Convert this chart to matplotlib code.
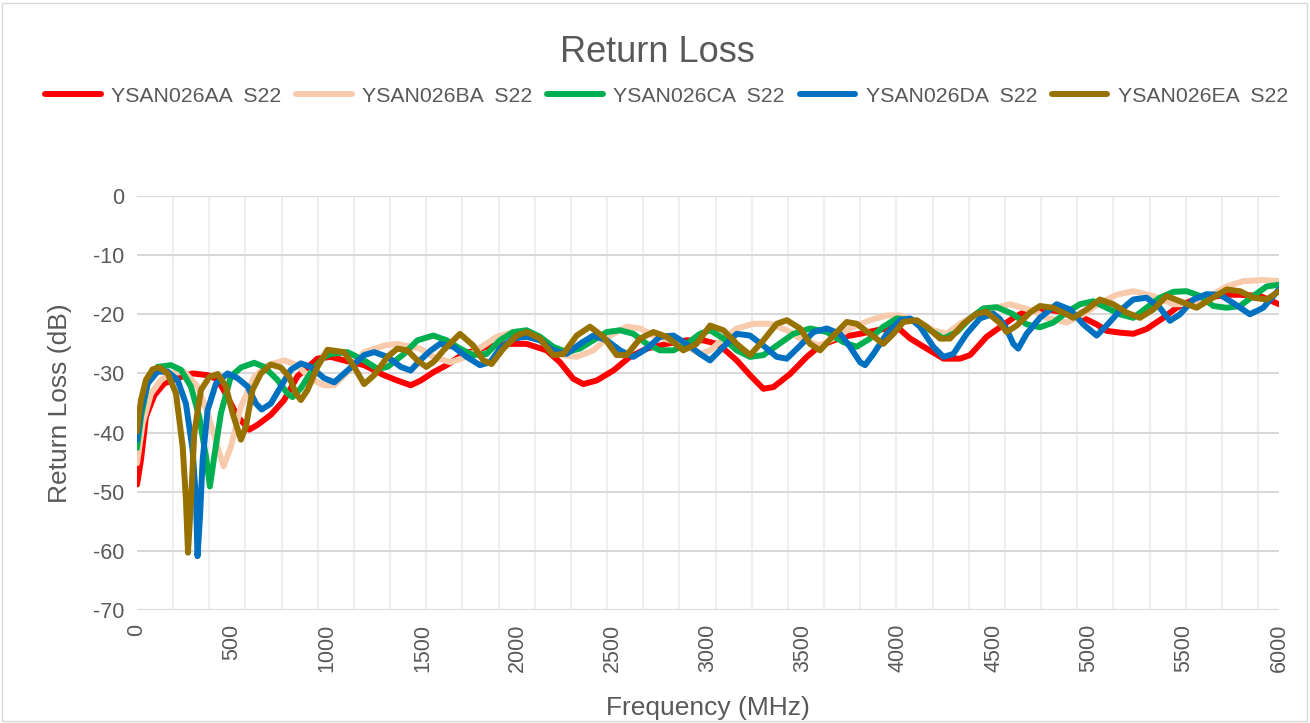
import matplotlib
matplotlib.use("Agg")
import matplotlib.pyplot as plt
from matplotlib.ticker import MultipleLocator
from matplotlib.patches import Rectangle

plt.rcParams['font.family'] = ['Liberation Sans', 'DejaVu Sans']

# ---------------- data ----------------
series_names = ["YSAN026AA  S22", "YSAN026BA  S22", "YSAN026CA  S22",
                "YSAN026DA  S22", "YSAN026EA  S22"]

f_aa = [0, 21, 47, 91, 143, 213, 292, 371, 423, 476, 528, 590, 633, 703, 773, 843, 913, 948,
        1018, 1088, 1193, 1298, 1368, 1438, 1491, 1557, 1627, 1715, 1837, 1942, 2047, 2152,
        2222, 2292, 2345, 2415, 2503, 2590, 2678, 2783, 2888, 2975, 3045, 3081, 3151, 3221,
        3291, 3344, 3431, 3519, 3589, 3711, 3799, 3887, 3992, 4062, 4149, 4237, 4324, 4377,
        4464, 4534, 4604, 4674, 4779, 4884, 4972, 5042, 5094, 5164, 5234, 5304, 5392, 5462,
        5532, 5620, 5725, 5795, 5900, 6000]
rl_aa = [-48.8, -44.6, -37.3, -33.7, -31.7, -30.8, -30.0, -30.3, -31.0, -34.0, -37.3, -39.5,
         -38.7, -37.0, -34.5, -30.5, -28.5, -27.5, -27.2, -27.8, -28.6, -30.3, -31.2, -32.0,
         -31.2, -29.8, -28.6, -26.7, -25.5, -25.0, -25.0, -26.1, -28.1, -30.9, -31.8, -31.2,
         -29.5, -27.2, -25.8, -25.0, -24.4, -24.4, -25.0, -25.8, -27.8, -30.3, -32.6, -32.3,
         -30.1, -27.2, -25.3, -23.8, -23.3, -22.7, -22.1, -24.1, -25.8, -27.5, -27.5, -26.9,
         -23.8, -22.2, -20.6, -19.4, -19.2, -19.7, -20.6, -21.7, -22.8, -23.1, -23.3, -22.5,
         -20.6, -18.9, -17.8, -17.2, -16.7, -16.7, -16.9, -18.3]

f_ba = [0, 30, 74, 126, 178, 248, 318, 371, 423, 455, 493, 546, 616, 686, 773, 843, 913, 983,
        1036, 1106, 1193, 1298, 1368, 1438, 1487, 1557, 1645, 1732, 1820, 1890, 1977, 2065,
        2152, 2240, 2310, 2397, 2485, 2573, 2643, 2713, 2800, 2888, 2958, 3011, 3081, 3151,
        3239, 3326, 3414, 3501, 3589, 3676, 3764, 3851, 3939, 4009, 4097, 4184, 4254, 4324,
        4412, 4499, 4587, 4709, 4779, 4884, 4972, 5059, 5147, 5234, 5339, 5445, 5532, 5620,
        5725, 5812, 5917, 6000]
rl_ba = [-45.2, -38.4, -33.4, -31.1, -30.0, -29.7, -32.2, -36.7, -42.4, -45.7, -42.4, -35.6,
         -30.6, -28.6, -27.8, -28.6, -30.9, -32.0, -32.0, -29.8, -26.4, -25.3, -25.0, -25.5,
         -25.8, -27.2, -28.1, -27.2, -25.3, -23.8, -23.0, -23.3, -25.0, -26.9, -27.2, -26.1,
         -23.6, -22.1, -22.4, -23.6, -24.4, -25.5, -26.7, -26.1, -24.1, -22.4, -21.6, -21.6,
         -22.7, -24.4, -25.3, -23.8, -22.1, -21.0, -20.2, -20.2, -21.3, -22.7, -23.3, -21.6,
         -19.9, -19.0, -18.3, -19.4, -20.6, -21.4, -20.0, -18.1, -16.7, -16.1, -16.9, -18.3,
         -18.3, -17.2, -15.3, -14.4, -14.2, -14.4]

f_ca = [0, 21, 56, 108, 178, 231, 283, 327, 362, 383, 406, 441, 493, 546, 616, 668, 738, 791,
        817, 861, 922, 983, 1018, 1106, 1193, 1263, 1316, 1403, 1473, 1557, 1627, 1697, 1767,
        1837, 1907, 1977, 2047, 2117, 2187, 2257, 2327, 2397, 2468, 2538, 2608, 2678, 2748,
        2818, 2888, 2958, 3011, 3081, 3151, 3221, 3291, 3361, 3449, 3536, 3624, 3711, 3781,
        3851, 3921, 3992, 4079, 4167, 4237, 4307, 4377, 4447, 4517, 4604, 4674, 4744, 4814,
        4884, 4954, 5024, 5094, 5164, 5234, 5304, 5374, 5445, 5515, 5585, 5655, 5725, 5795,
        5865, 5935, 6000]
rl_ca = [-42.6, -37.3, -31.7, -28.9, -28.6, -29.4, -32.2, -37.3, -44.0, -49.1, -44.0, -36.7,
         -30.5, -29.0, -28.2, -28.9, -31.1, -33.4, -34.0, -32.5, -29.4, -27.2, -26.7, -26.4,
         -27.8, -29.2, -28.9, -26.7, -24.4, -23.6, -24.4, -25.8, -26.9, -26.7, -24.4, -23.0,
         -22.7, -23.8, -25.5, -26.4, -25.8, -24.4, -23.0, -22.7, -23.3, -25.0, -26.1, -26.1,
         -25.0, -23.3, -22.7, -24.1, -26.1, -27.2, -26.9, -25.3, -23.3, -22.4, -23.0, -24.7,
         -25.5, -24.1, -22.1, -20.7, -21.0, -22.7, -24.1, -23.0, -20.7, -19.0, -18.8, -20.0,
         -21.7, -22.2, -21.4, -19.7, -18.3, -17.8, -18.9, -20.0, -20.6, -18.9, -17.2, -16.2,
         -16.1, -16.9, -18.6, -18.9, -18.6, -16.9, -15.3, -15.0]

f_da = [0, 21, 56, 108, 161, 213, 257, 292, 310, 318, 331, 345, 371, 415, 476, 528, 581, 625,
        655, 703, 756, 808, 861, 913, 983, 1036, 1106, 1193, 1246, 1316, 1386, 1438, 1487,
        1540, 1592, 1662, 1732, 1802, 1855, 1907, 1977, 2047, 2117, 2187, 2257, 2327, 2397,
        2468, 2538, 2608, 2678, 2748, 2818, 2888, 2958, 3011, 3081, 3151, 3221, 3291, 3361,
        3414, 3484, 3554, 3624, 3694, 3746, 3799, 3825, 3869, 3939, 4009, 4062, 4114, 4184,
        4237, 4289, 4359, 4429, 4499, 4534, 4569, 4604, 4630, 4674, 4744, 4832, 4902, 4972,
        5042, 5094, 5164, 5234, 5304, 5374, 5427, 5480, 5550, 5620, 5690, 5760, 5847, 5917,
        6000]
rl_da = [-41.2, -36.2, -31.7, -29.7, -29.7, -31.1, -35.1, -42.9, -51.3, -60.9, -54.2, -44.6,
         -36.2, -31.7, -30.0, -30.8, -32.2, -35.1, -36.1, -35.1, -32.2, -29.4, -28.3, -28.9,
         -30.8, -31.5, -29.5, -26.9, -26.4, -27.2, -28.9, -29.5, -27.8, -26.2, -25.0, -25.5,
         -27.2, -28.6, -28.1, -25.8, -24.1, -23.8, -24.4, -26.1, -26.7, -25.0, -23.6, -24.4,
         -26.1, -27.2, -25.8, -23.8, -23.6, -25.0, -26.7, -27.8, -25.5, -23.3, -23.6, -25.3,
         -27.2, -27.5, -25.3, -23.0, -22.4, -23.3, -25.5, -28.1, -28.6, -26.7, -23.3, -21.0,
         -20.7, -22.1, -25.5, -27.2, -26.7, -23.3, -20.7, -19.9, -20.8, -22.5, -25.0, -25.8,
         -23.3, -20.6, -18.3, -19.2, -21.7, -23.6, -21.9, -19.4, -17.5, -17.2, -18.9, -21.1,
         -20.0, -17.5, -16.6, -16.7, -18.1, -20.0, -18.9, -15.8]

f_ea = [0, 21, 47, 82, 117, 161, 205, 240, 257, 268, 284, 301, 336, 380, 424, 467, 502, 546,
        572, 607, 651, 703, 756, 800, 835, 861, 896, 948, 1001, 1088, 1141, 1193, 1246, 1316,
        1368, 1421, 1473, 1520, 1560, 1610, 1697, 1767, 1820, 1863, 1925, 1995, 2047, 2117,
        2187, 2240, 2310, 2380, 2450, 2520, 2573, 2643, 2713, 2783, 2870, 2940, 3011, 3081,
        3151, 3221, 3291, 3361, 3414, 3484, 3536, 3589, 3659, 3729, 3781, 3851, 3921, 3974,
        4027, 4097, 4149, 4219, 4272, 4342, 4412, 4464, 4534, 4569, 4622, 4692, 4744, 4814,
        4884, 4919, 4989, 5059, 5129, 5199, 5269, 5339, 5409, 5480, 5567, 5637, 5725, 5795,
        5865, 5935, 6000]
rl_ea = [-39.8, -34.5, -31.1, -29.3, -29.0, -30.0, -33.4, -42.4, -51.3, -60.3, -51.3, -40.1,
         -32.8, -30.6, -30.1, -32.2, -36.7, -41.2, -39.0, -32.8, -30.0, -28.5, -29.0, -30.6,
         -33.4, -34.5, -32.8, -28.9, -26.0, -26.4, -28.9, -31.8, -30.3, -27.2, -25.8, -26.1,
         -27.8, -28.9, -28.0, -26.1, -23.3, -25.3, -27.8, -28.4, -25.8, -23.6, -23.0, -24.1,
         -26.9, -26.7, -23.6, -22.1, -23.8, -26.9, -26.9, -24.1, -23.0, -23.8, -26.1, -25.0,
         -21.9, -22.7, -25.0, -26.9, -24.4, -21.6, -21.0, -22.4, -25.0, -26.1, -23.6, -21.3,
         -21.6, -23.3, -25.0, -23.3, -21.3, -21.0, -22.1, -24.1, -24.1, -21.6, -19.9, -19.6,
         -21.5, -23.0, -21.9, -19.7, -18.6, -18.9, -20.0, -20.6, -19.2, -17.5, -18.3, -19.7,
         -20.6, -19.2, -16.9, -17.8, -18.9, -17.5, -15.8, -16.1, -17.2, -17.5, -16.1]

x_ticks = [0, 500, 1000, 1500, 2000, 2500, 3000, 3500, 4000, 4500, 5000, 5500, 6000]
y_ticks = [0, -10, -20, -30, -40, -50, -60, -70]

# ---------------- styling ----------------
colors = ["#FF0000", "#F8CBAD", "#00B050", "#0070C0", "#977200"]
text_col = "#595959"
W, H = 1310, 723
fig = plt.figure(figsize=(W / 100, H / 100), dpi=100)
fig.patches.append(Rectangle((2 / W, 2 / H), (W - 5) / W, (H - 5) / H, transform=fig.transFigure,
                             fill=False, edgecolor="#d9d9d9", linewidth=1.0))

ax = fig.add_axes([137 / W, 1 - 610 / H, (1279 - 137) / W, (610 - 196) / H])
ax.set_xlim(0, 6000)
ax.set_ylim(-70, 0)

xs = [f_aa, f_ba, f_ca, f_da, f_ea]
ys = [rl_aa, rl_ba, rl_ca, rl_da, rl_ea]
for xv, yv, c, name in zip(xs, ys, colors, series_names):
    ax.plot(xv, yv, color=c, linewidth=4.3, label=name,
            solid_joinstyle="round", solid_capstyle="round", zorder=3)

ax.set_xticks(x_ticks)
ax.set_xticklabels([str(v) for v in x_ticks], rotation=90, fontsize=15.5, color=text_col)
ax.set_yticks(y_ticks)
ax.set_yticklabels([str(v) for v in y_ticks], fontsize=15.5, color=text_col)
ax.xaxis.set_minor_locator(MultipleLocator(190))
ax.tick_params(axis="both", which="both", length=0)
ax.tick_params(axis="x", pad=10)
ax.tick_params(axis="y", pad=9)
ax.grid(True, axis="y", which="major", color="#d9d9d9", linewidth=1.5, zorder=1)
ax.grid(True, axis="x", which="minor", color="#efefef", linewidth=1.5, zorder=0)
ax.grid(False, axis="x", which="major")
for s in ax.spines.values():
    s.set_visible(False)

ax.set_xlabel("Frequency (MHz)", fontsize=19, color=text_col, labelpad=17)
ax.set_ylabel("Return Loss (dB)", fontsize=19, color=text_col, labelpad=15)

fig.text(0.5015, 1 - 52 / H, "Return Loss", ha="center", va="center",
         fontsize=26, color=text_col)

leg = fig.legend(loc="center", bbox_to_anchor=(0.509, 1 - 96 / H), ncol=5, frameon=False,
                 fontsize=15.3, handlelength=2.6, handletextpad=0.5, columnspacing=0.7,
                 labelcolor=text_col)
for line in leg.get_lines():
    line.set_linewidth(4.3)
    line.set_solid_capstyle("round")

fig.savefig("out.png", dpi=100)
